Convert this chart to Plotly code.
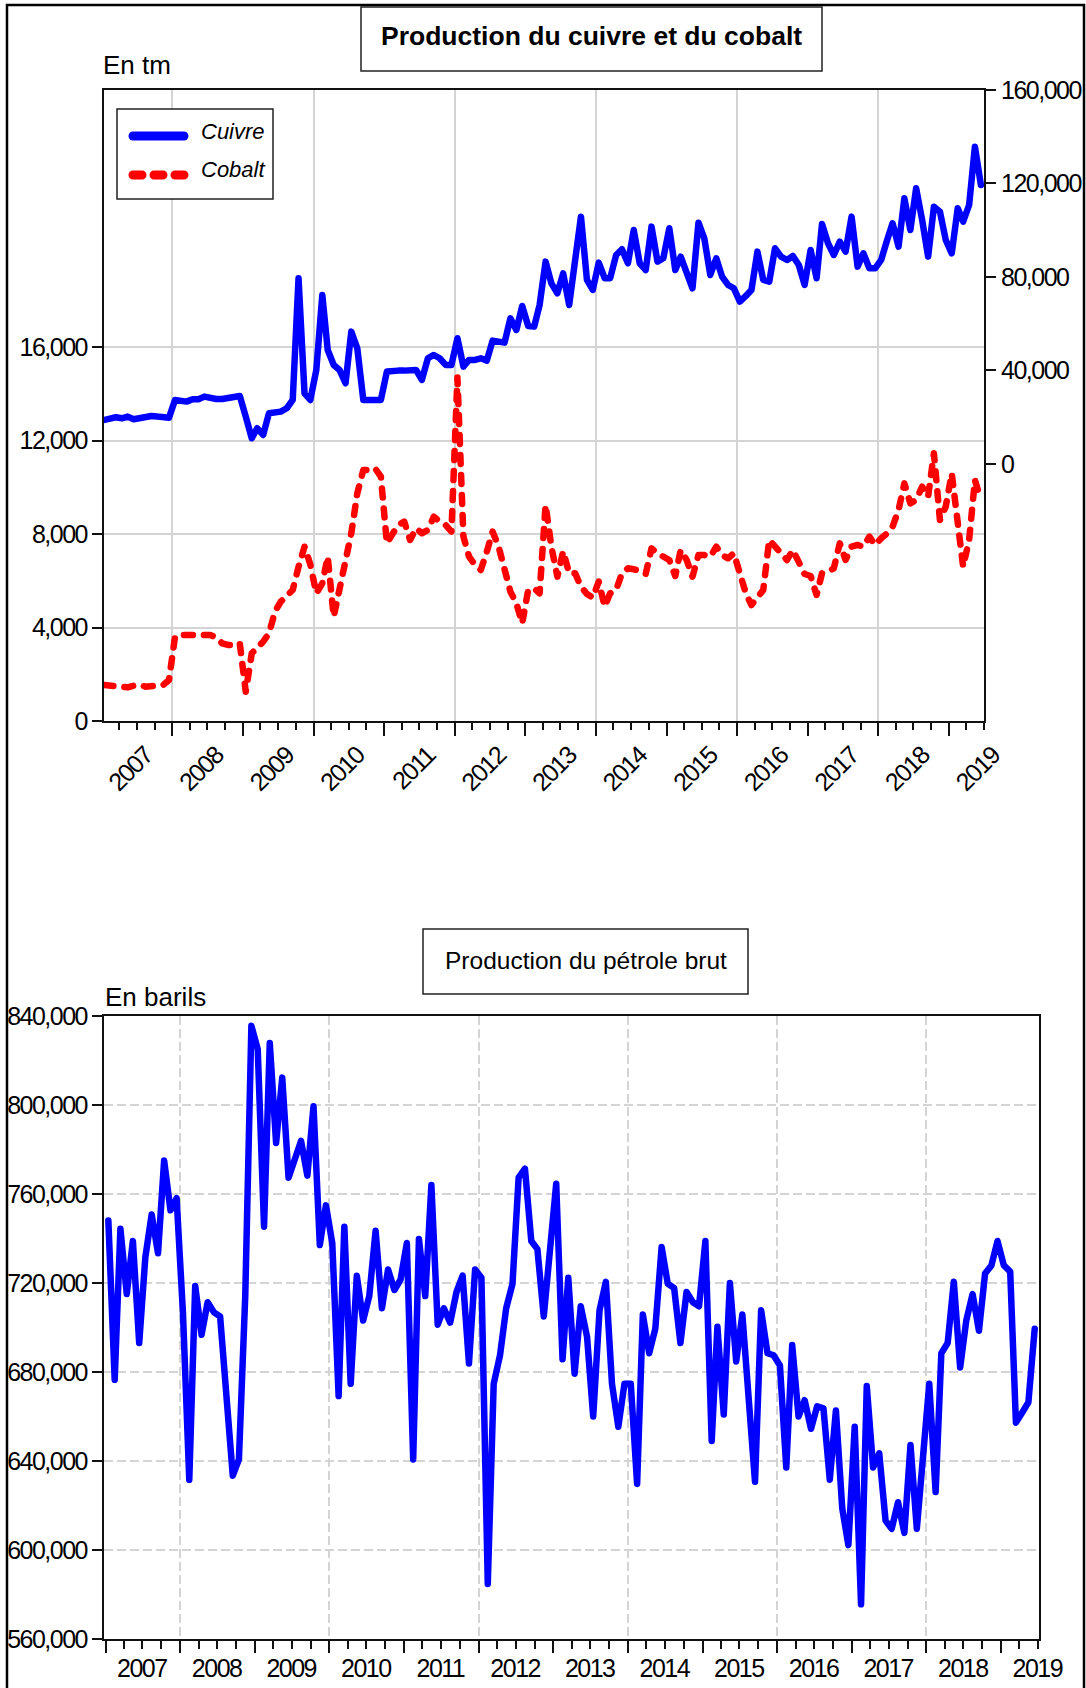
import plotly.graph_objects as go
import pandas as pd

W, H = 1086, 1688

# ---------------- data (monthly, Jan 2007 - Jun 2019) ----------------
months = pd.date_range("2007-01-01", periods=150, freq="MS")
obs_dates = [d + pd.Timedelta(days=14) for d in months]

years = list(range(2007, 2020))
year_labels = [str(y) for y in years]

cuivre = [
    18823, 19110, 19965, 19537, 20250, 19110, 19537, 19965, 20534, 20250, 20250, 19800,
    27380, 26667, 26667, 27665, 27665, 28806, 28093, 27807, 27807, 28093, 28520, 29090,
    20250, 10980, 15258, 12406, 21676, 21961, 22389, 23815, 27380, 79428, 30231, 27380,
    40213, 72298, 48769, 42352, 40213, 34509, 56612, 49482, 27380, 27380, 27380, 27380,
    39500, 39927, 39927, 39927, 39927, 40213, 35935, 45205, 46630, 45205, 42352, 42352,
    53760, 41639, 44491, 44491, 45205, 44206, 52762, 52334, 51906, 62317, 57325, 67592,
    59036, 58751, 68000, 86557, 77290, 73012, 81568, 68020, 86985, 105808, 78715, 74437,
    86129, 79428, 79428, 89410, 91835, 85844, 100105, 85844, 82993, 101531, 86557, 87985,
    100818, 82993, 88697, 81568, 75150, 103242, 96541, 80854, 87985, 80141, 76576, 75150,
    69445, 71870, 74437, 90835, 78715, 78002, 92262, 88697, 87271, 88982, 85132, 76576,
    91549, 79428, 102672, 94402, 89410, 95115, 90835, 105808, 84419, 90123, 83706, 83706,
    87271, 95827, 102957, 92975, 113653, 100105, 117931, 104383, 88697, 110087, 107948, 95827,
    90123, 109374, 103670, 110800, 135753, 119356,
]

cobalt = [
    1541, 1520, 1498, 1441, 1441, 1512, 1541, 1470, 1498, 1520, 1541, 1755,
    3610, 3682, 3682, 3682, 3700, 3725, 3682, 3570, 3325, 3254, 3254, 3325,
    1254, 2898, 3111, 3396, 3753, 4680, 5108, 5322, 5608, 6600, 7460, 6700,
    5465, 5893, 7035, 4466, 5750, 6892, 8035, 9747, 10745, 10745, 10817, 10460,
    7606, 8034, 8391, 8534, 7749, 8248, 8034, 8177, 8748, 8534, 8391, 8105,
    14700, 7891, 7035, 6678, 6464, 7249, 8105, 7463, 6464, 5537, 5037, 4181,
    5608, 5680, 5465, 9247, 7463, 6179, 7263, 6322, 6322, 5751, 5437, 5280,
    5965, 4895, 5465, 5608, 6322, 6536, 6493, 6436, 6293, 7391, 7177, 7035,
    6892, 6207, 7320, 6892, 6179, 7106, 7106, 7035, 7463, 7106, 6964, 7177,
    6322, 5465, 4966, 5323, 5608, 7749, 7463, 7106, 6892, 7320, 6821, 6293,
    6207, 5394, 6322, 6393, 6536, 7606, 6892, 7463, 7535, 7463, 7891, 7535,
    7820, 8034, 8320, 9033, 10174, 9318, 9461, 10032, 9604, 11459, 8605, 9176,
    10602, 8748, 6607, 7749, 10317, 9461,
]

petrole = [
    748070, 676500, 744400, 715040, 738900, 693000, 731560, 750820, 733390, 775040, 752660, 758160,
    706780, 631550, 718700, 696700, 711370, 706780, 704950, 668250, 633380, 640700, 714120, 835600,
    825140, 745320, 827900, 782930, 812300, 767340, 776500, 783850, 768250, 799450, 737050, 754900,
    737900, 669170, 745320, 674670, 723300, 703110, 714120, 743480, 708620, 726050, 716870, 721460,
    737980, 640720, 739800, 714120, 764030, 701280, 708620, 702200, 715960, 723300, 683840, 726050,
    722380, 584750, 674670, 687520, 708620, 719630, 767340, 771370, 738900, 735230, 704950, 732470,
    764600, 685680, 722380, 679260, 709540, 695770, 659990, 707700, 720540, 674670, 655400, 674670,
    674670, 629710, 705860, 688430, 699440, 736140, 719630, 717800, 693020, 715960, 711370, 709540,
    738900, 648980, 700360, 660900, 719990, 684760, 705860, 668250, 630630, 707700, 688430, 687520,
    682930, 637050, 692100, 659990, 667330, 654480, 664580, 663660, 631550, 662740, 618700, 602190,
    655400, 575580, 673750, 637050, 643470, 613200, 609530, 621450, 607690, 647150, 609530, 641640,
    674670, 626040, 688430, 693020, 720540, 682010, 703110, 715040, 698520, 724220, 727890, 738900,
    727890, 725140, 657240, 661830, 666410, 699440,
]

cobalt_ticks = [0, 4000, 8000, 12000, 16000]
cuivre_ticks = [0, 40000, 80000, 120000, 160000]
petrole_ticks = [560000, 600000, 640000, 680000, 720000, 760000, 800000, 840000]

# ---------------- helpers for layout placement (pixels -> paper) ----------------
def fx(p):
    return p / W

def fy(p):
    return 1 - p / H

FAMILY = "Liberation Sans, Arial, sans-serif"
TICKFONT = dict(family=FAMILY, size=25, color="black")
AXLINE = "#111111"
GRID = "#d4d4d4"

year_start = [f"{y}-01-01" for y in years]
label_pos = [f"{y}-06-28" for y in years]
quarters = [f"{y}-{m:02d}-01" for y in years for m in (4, 7, 10)]
even_years = [f"{y}-01-01" for y in range(2008, 2019, 2)]

top_range = ["2007-01-12 16:00", "2019-07-01"]
bot_range = ["2006-12-24 16:00", "2019-07-06"]

fig = go.Figure()

fig.add_trace(go.Scatter(
    x=obs_dates, y=cuivre, name="Cuivre", mode="lines",
    line=dict(color="#0000ff", width=6.5), xaxis="x", yaxis="y2", showlegend=False,
))
fig.add_trace(go.Scatter(
    x=obs_dates, y=cobalt, name="Cobalt", mode="lines",
    line=dict(color="#ff0000", width=6.5, dash="9px,11px"), xaxis="x", yaxis="y", showlegend=False,
))
fig.add_trace(go.Scatter(
    x=obs_dates, y=petrole, name="Pétrole brut", mode="lines",
    line=dict(color="#0000ff", width=6.5), xaxis="x3", yaxis="y3", showlegend=False,
))
# helper traces so that the overlay tick/grid axes are drawn
fig.add_trace(go.Scatter(x=[obs_dates[0]], y=[None], xaxis="x4", yaxis="y", mode="lines",
                         showlegend=False, hoverinfo="skip"))
fig.add_trace(go.Scatter(x=[obs_dates[0]], y=[None], xaxis="x5", yaxis="y3", mode="lines",
                         showlegend=False, hoverinfo="skip"))

top_dom_x = [fx(104), fx(984)]
top_dom_y = [fy(721), fy(90)]
bot_dom_x = [fx(104), fx(1039)]
bot_dom_y = [fy(1639), fy(1016)]

fig.update_layout(
    width=W, height=H, autosize=False,
    margin=dict(l=0, r=0, t=0, b=0, pad=0, autoexpand=False),
    paper_bgcolor="white", plot_bgcolor="white",
    font=dict(family=FAMILY, color="black"),
    showlegend=False,
    # ---- top chart ----
    xaxis=dict(
        domain=top_dom_x, anchor="y", type="date", range=top_range, autorange=False, automargin=False,
        tickmode="array", tickvals=label_pos, ticktext=year_labels, tickangle=-45,
        ticklabelshift=9, ticklabelstandoff=8,
        ticks="", showgrid=False, zeroline=False, tickfont=TICKFONT,
        showline=True, linecolor=AXLINE, linewidth=2, mirror=True,
        minor=dict(tickmode="array", tickvals=quarters, ticks="outside", ticklen=7,
                   tickwidth=1.5, tickcolor=AXLINE, showgrid=False),
    ),
    xaxis4=dict(
        overlaying="x", anchor="y", type="date", range=top_range, autorange=False, automargin=False,
        tickmode="array", tickvals=year_start, ticks="outside", ticklen=14, tickwidth=1.5,
        tickcolor=AXLINE, showticklabels=False, showgrid=False, zeroline=False, showline=False,
        minor=dict(tickmode="array", tickvals=even_years, ticks="", showgrid=True,
                   gridcolor=GRID, gridwidth=1.5),
    ),
    yaxis=dict(
        domain=top_dom_y, anchor="x", range=[0, 27010], autorange=False, automargin=False,
        tickmode="array", tickvals=cobalt_ticks, tickformat=",", ticks="outside", ticklen=10,
        tickwidth=1.5, tickcolor=AXLINE, tickfont=TICKFONT,
        showgrid=True, gridcolor=GRID, gridwidth=1.5, zeroline=False,
        showline=True, linecolor=AXLINE, linewidth=2,
    ),
    yaxis2=dict(
        overlaying="y", anchor="x", side="right", range=[-110000, 160000], autorange=False,
        automargin=False,
        tickmode="array", tickvals=cuivre_ticks, tickformat=",", ticks="outside", ticklen=10,
        tickwidth=1.5, tickcolor=AXLINE, tickfont=TICKFONT,
        showgrid=False, zeroline=False, showline=True, linecolor=AXLINE, linewidth=2,
    ),
    # ---- bottom chart ----
    xaxis3=dict(
        domain=bot_dom_x, anchor="y3", type="date", range=bot_range, autorange=False, automargin=False,
        tickmode="array", tickvals=label_pos, ticktext=year_labels, tickangle=0,
        ticklabelstandoff=6,
        ticks="", showgrid=False, zeroline=False, tickfont=TICKFONT,
        showline=True, linecolor=AXLINE, linewidth=2, mirror=True,
        minor=dict(tickmode="array", tickvals=quarters, ticks="outside", ticklen=8,
                   tickwidth=1.5, tickcolor=AXLINE, showgrid=False),
    ),
    xaxis5=dict(
        overlaying="x3", anchor="y3", type="date", range=bot_range, autorange=False, automargin=False,
        tickmode="array", tickvals=year_start, ticks="outside", ticklen=13, tickwidth=1.5,
        tickcolor=AXLINE, showticklabels=False, showgrid=False, zeroline=False, showline=False,
        minor=dict(tickmode="array", tickvals=even_years, ticks="", showgrid=True,
                   gridcolor=GRID, gridwidth=1.5, griddash="9px,4px"),
    ),
    yaxis3=dict(
        domain=bot_dom_y, anchor="x3", range=[560000, 840000], autorange=False, automargin=False,
        tickmode="array", tickvals=petrole_ticks, tickformat=",", ticks="outside", ticklen=10,
        tickwidth=1.5, tickcolor=AXLINE, tickfont=TICKFONT,
        showgrid=True, gridcolor=GRID, gridwidth=1.5, griddash="9px,4px", zeroline=False,
        showline=True, linecolor=AXLINE, linewidth=2, mirror=True,
    ),
)

shapes = []
# outer frame
shapes.append(dict(type="rect", xref="paper", yref="paper", x0=fx(7), x1=fx(1084), y0=fy(1700), y1=fy(5),
                   line=dict(color="black", width=2.5), fillcolor="rgba(0,0,0,0)", layer="above"))
# title boxes
shapes.append(dict(type="rect", xref="paper", yref="paper", x0=fx(361), x1=fx(822), y0=fy(71), y1=fy(7),
                   line=dict(color="#222222", width=1.5), fillcolor="white", layer="above"))
shapes.append(dict(type="rect", xref="paper", yref="paper", x0=fx(423), x1=fx(748), y0=fy(994), y1=fy(929),
                   line=dict(color="#222222", width=1.5), fillcolor="white", layer="above"))
# legend box and samples
shapes.append(dict(type="rect", xref="paper", yref="paper", x0=fx(117), x1=fx(273), y0=fy(199), y1=fy(109),
                   line=dict(color="#222222", width=1.5), fillcolor="white", layer="above"))
shapes.append(dict(type="line", xref="paper", yref="paper", x0=fx(133), x1=fx(184), y0=fy(136), y1=fy(136),
                   line=dict(color="#0000ff", width=9), layer="above"))
shapes.append(dict(type="line", xref="paper", yref="paper", x0=fx(133), x1=fx(184), y0=fy(175), y1=fy(175),
                   line=dict(color="#ff0000", width=9, dash="9px,12px"), layer="above"))
fig.update_layout(shapes=shapes)

annotations = [
    dict(text="<b>Production du cuivre et du cobalt</b>", x=fx(591.5), y=fy(36), xref="paper", yref="paper",
         xanchor="center", yanchor="middle", showarrow=False,
         font=dict(family=FAMILY, size=26.5, color="black")),
    dict(text="En tm", x=fx(101), y=fy(65), xref="paper", yref="paper", xanchor="left", yanchor="middle",
         showarrow=False, font=dict(family=FAMILY, size=26, color="black")),
    dict(text="Cuivre", x=fx(199), y=fy(132), xref="paper", yref="paper", xanchor="left", yanchor="middle",
         showarrow=False, font=dict(family=FAMILY, size=22, color="black", style="italic")),
    dict(text="Cobalt", x=fx(199), y=fy(170), xref="paper", yref="paper", xanchor="left", yanchor="middle",
         showarrow=False, font=dict(family=FAMILY, size=22, color="black", style="italic")),
    dict(text="Production du pétrole brut", x=fx(586), y=fy(960), xref="paper", yref="paper",
         xanchor="center", yanchor="middle", showarrow=False,
         font=dict(family=FAMILY, size=24.5, color="black")),
    dict(text="En barils", x=fx(103), y=fy(997), xref="paper", yref="paper", xanchor="left", yanchor="middle",
         showarrow=False, font=dict(family=FAMILY, size=26, color="black")),
]
fig.update_layout(annotations=annotations)

post = """
var s = document.createElement('style');
s.innerHTML = 'html,body{margin:0;padding:0;overflow:hidden;}'
  + ' .scatterlayer .js-line{stroke-linecap:round;stroke-linejoin:round;}'
  + ' .shapelayer path{stroke-linecap:round;}'
  + ' g[class$="tick"] > text{letter-spacing:-1.5px;}';
document.head.appendChild(s);
"""

fig.write_html("out.html", post_script=post, config={"displayModeBar": False})
